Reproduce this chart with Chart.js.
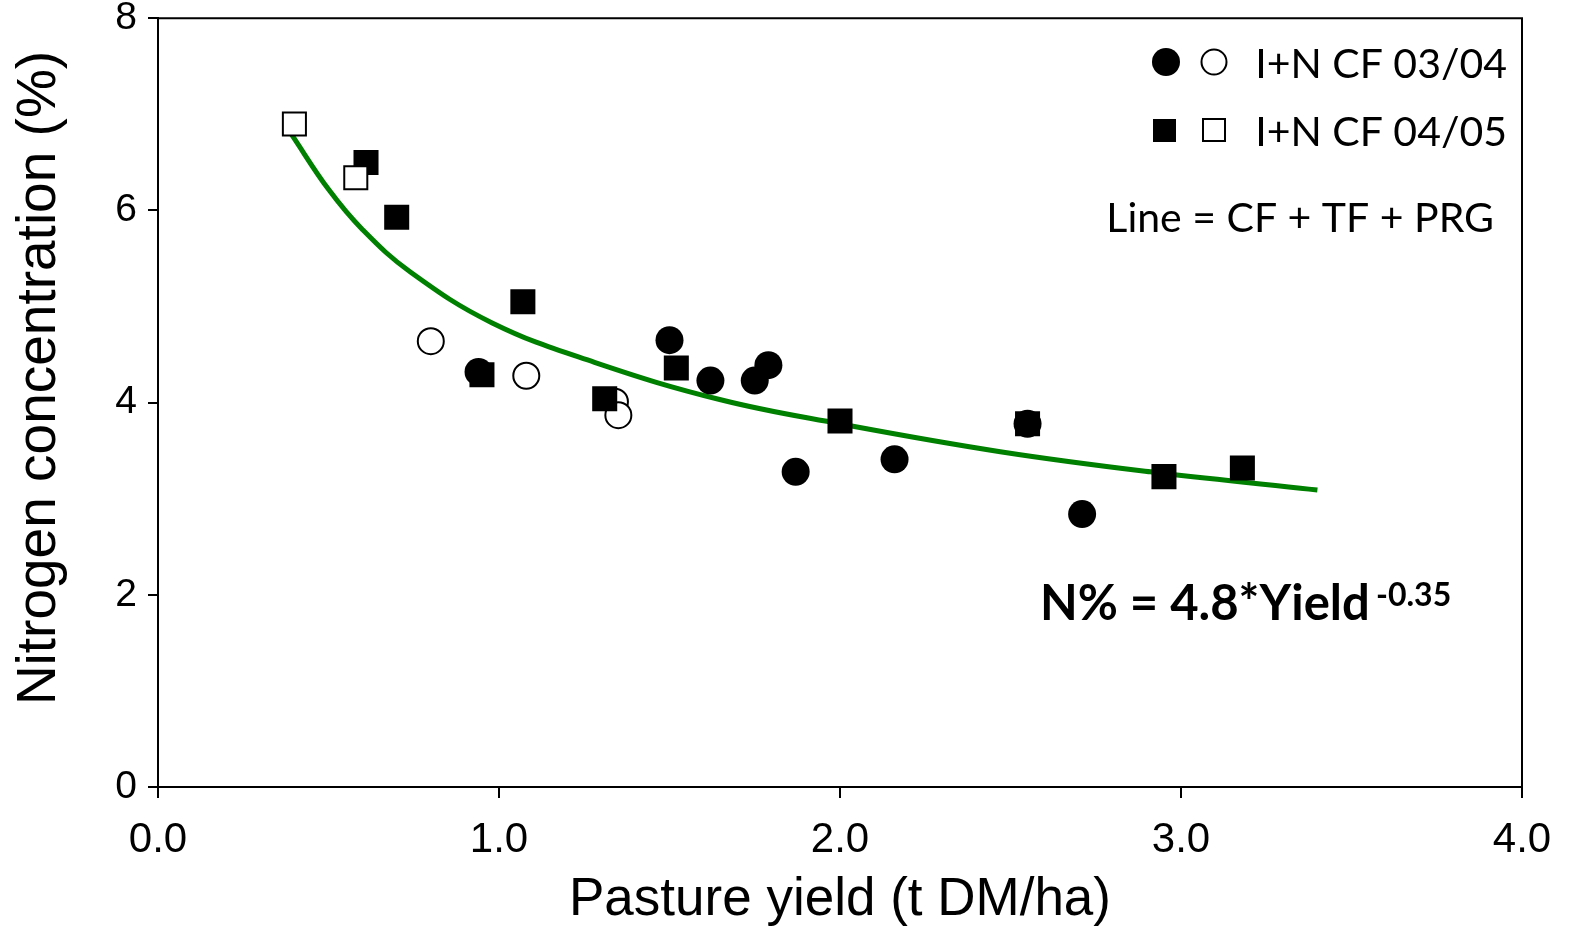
<!DOCTYPE html>
<html><head><meta charset="utf-8">
<script src="https://cdn.jsdelivr.net/npm/chart.js@4.4.1/dist/chart.umd.min.js"></script>
<style>html,body{margin:0;padding:0;background:#fff}#wrap{width:1569px;height:928px}</style>
</head><body><div id="wrap"><canvas id="c" width="1569" height="928"></canvas></div>
<script>
// ---- data ----
const filledCircleX = [0.94, 1.50, 1.62, 1.75, 1.79, 1.87, 2.16, 2.55, 2.71];
const filledCircleY = [4.32, 4.65, 4.23, 4.23, 4.39, 3.28, 3.41, 3.78, 2.84];
const openCircleX = [0.80, 1.08, 1.34, 1.35];
const openCircleY = [4.64, 4.28, 4.01, 3.87];
const filledSquareX = [0.61, 0.70, 0.95, 1.07, 1.31, 1.52, 2.00, 2.55, 2.95, 3.18];
const filledSquareY = [6.50, 5.93, 4.29, 5.05, 4.04, 4.36, 3.81, 3.78, 3.23, 3.32];
const openSquareX = [0.40, 0.58];
const openSquareY = [6.90, 6.34];
const lineX = [0.39, 0.50, 0.60, 0.74, 0.98, 1.28, 1.65, 2.00, 2.47, 2.91, 3.35, 3.40];
const lineY = [6.80, 6.22, 5.80, 5.36, 4.83, 4.42, 4.03, 3.78, 3.49, 3.28, 3.11, 3.09];
const xTicks = [0, 1, 2, 3, 4];
const yTicks = [0, 2, 4, 6, 8];
const legendLabels = ['I+N CF 03/04', 'I+N CF 04/05'];
const noteText = 'Line = CF + TF + PRG';
const eqMain = 'N% = 4.8*Yield';
const eqExp = '-0.35';
const xTitle = 'Pasture yield (t DM/ha)';
const yTitle = 'Nitrogen concentration (%)';

function pts(xs, ys) { return xs.map((x, i) => ({ x: x, y: ys[i] })); }

const LEGEND_FONT = 'Lato';
const decor = {
  id: 'decor',
  afterDraw(chart) {
    const ctx = chart.ctx, a = chart.chartArea;
    ctx.save();
    // box top/right
    ctx.strokeStyle = '#000'; ctx.lineWidth = 2;
    ctx.beginPath();
    ctx.moveTo(a.left, a.top); ctx.lineTo(a.right, a.top); ctx.lineTo(a.right, a.bottom);
    ctx.stroke();
    // y axis title
    ctx.save();
    ctx.translate(40, 378);
    ctx.rotate(-Math.PI / 2);
    ctx.fillStyle = '#000';
    ctx.font = '55px "Liberation Sans"';
    ctx.textAlign = 'center'; ctx.textBaseline = 'middle';
    ctx.fillText(yTitle, 0, 0);
    ctx.restore();
    // legend markers
    ctx.fillStyle = '#000';
    ctx.beginPath(); ctx.arc(1166, 62, 14, 0, Math.PI * 2); ctx.fill();
    ctx.fillStyle = '#fff'; ctx.lineWidth = 2;
    ctx.beginPath(); ctx.arc(1214, 62, 12.5, 0, Math.PI * 2); ctx.fill(); ctx.stroke();
    ctx.fillStyle = '#000';
    ctx.fillRect(1153, 119, 23, 23);
    ctx.fillStyle = '#fff';
    ctx.fillRect(1203, 119, 22, 22); ctx.strokeRect(1203, 119, 22, 22);
    // legend text
    ctx.fillStyle = '#000';
    ctx.textAlign = 'right'; ctx.textBaseline = 'alphabetic';
    ctx.font = '41px ' + LEGEND_FONT;
    ctx.fillText(legendLabels[0], 1507, 78);
    ctx.fillText(legendLabels[1], 1507, 146);
    ctx.fillText(noteText, 1494, 232);
    // equation
    ctx.textAlign = 'left';
    ctx.font = 'bold 49px ' + LEGEND_FONT;
    ctx.fillText(eqMain, 1040, 620);
    ctx.font = 'bold 32px ' + LEGEND_FONT;
    ctx.fillText(eqExp, 1376, 606);
    ctx.restore();
  }
};

new Chart(document.getElementById('c'), {
  type: 'scatter',
  data: {
    datasets: [
      { label: 'open squares', data: pts(openSquareX, openSquareY), order: 0,
        pointStyle: 'rect', pointRadius: 16.3, backgroundColor: '#fff', borderColor: '#000', borderWidth: 2 },
      { label: 'filled squares', data: pts(filledSquareX, filledSquareY), order: 1,
        pointStyle: 'rect', pointRadius: 17.7, backgroundColor: '#000', borderColor: '#000', borderWidth: 0 },
      { label: 'open circles', data: pts(openCircleX, openCircleY), order: 2,
        pointStyle: 'circle', pointRadius: 13, backgroundColor: '#fff', borderColor: '#000', borderWidth: 2 },
      { label: 'filled circles', data: pts(filledCircleX, filledCircleY), order: 3,
        pointStyle: 'circle', pointRadius: 14, backgroundColor: '#000', borderColor: '#000', borderWidth: 0 },
      { label: 'fit', data: pts(lineX, lineY), order: 4, showLine: true, pointRadius: 0,
        borderColor: '#008000', borderWidth: 5, tension: 0.4, fill: false }
    ]
  },
  options: {
    responsive: false, animation: false, devicePixelRatio: 1,
    layout: { padding: { left: 0, top: 14, right: 47, bottom: 0 } },
    plugins: { legend: { display: false }, tooltip: { enabled: false } },
    scales: {
      x: {
        type: 'linear', min: 0, max: 4,
        afterBuildTicks: s => { s.ticks = xTicks.map(v => ({ value: v })); },
        afterFit: s => { s.height = 141; s.paddingLeft = 0; s.paddingRight = 0; },
        ticks: { callback: v => Number(v).toFixed(1), color: '#000', padding: 17, maxRotation: 0, autoSkip: false,
          font: { family: 'Liberation Sans', size: 42 } },
        grid: { drawOnChartArea: false, tickLength: 11, color: '#000', lineWidth: 2 },
        border: { color: '#000', width: 2 },
        title: { display: true, text: xTitle, color: '#000', padding: { top: 0, bottom: 1 },
          font: { family: 'Liberation Sans', size: 53, lineHeight: 1 } }
      },
      y: {
        type: 'linear', min: 0, max: 8,
        afterBuildTicks: s => { s.ticks = yTicks.map(v => ({ value: v })); },
        afterFit: s => { s.width = 158; s.paddingTop = 0; s.paddingBottom = 0; },
        ticks: { color: '#000', padding: 11, font: { family: 'Liberation Sans', size: 39 } },
        grid: { drawOnChartArea: false, tickLength: 10, color: '#000', lineWidth: 2 },
        border: { color: '#000', width: 2 },
        title: { display: false }
      }
    }
  },
  plugins: [decor]
});
</script>
</body></html>
